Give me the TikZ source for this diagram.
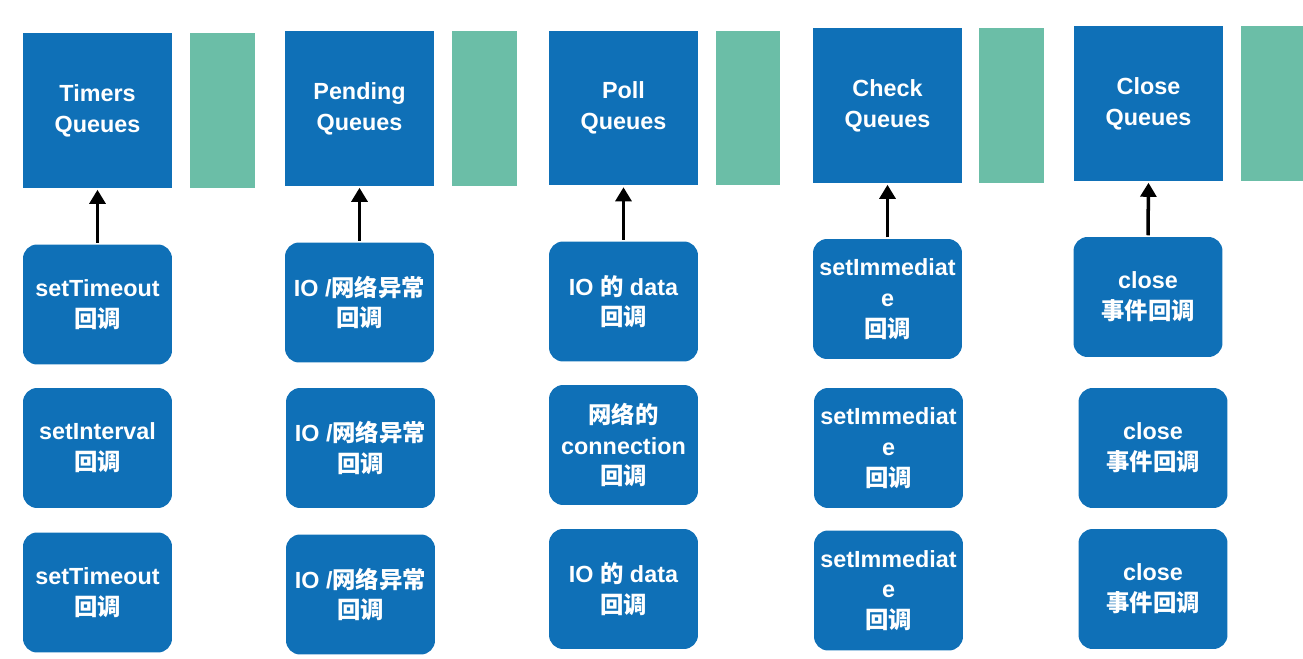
\documentclass[tikz,border=0pt]{standalone}
\usepackage{fontspec}
\setmainfont{Liberation Sans}
\newfontfamily\cjk{Noto Sans CJK SC}
\usepackage{tikz}
\usetikzlibrary{arrows.meta,positioning}
\definecolor{LoopBlue}{HTML}{0F70B7}
\definecolor{LoopGreen}{HTML}{6BBEA7}
\newcommand{\zh}[1]{{\cjk\bfseries #1}}

\begin{document}
\begin{tikzpicture}[x=0.02cm, y=-0.02cm, >={Triangle[width=9pt,length=8pt]}, line width=2pt,
  font=\fontsize{13.3}{17.5}\selectfont\bfseries,
  queue/.style={fill=LoopBlue, text=white, minimum width=2.98cm, minimum height=3.1cm, align=center, inner sep=0pt},
  bar/.style={fill=LoopGreen, minimum width=1.3cm, minimum height=3.1cm, inner sep=0pt},
  cb/.style={rounded corners=8pt, fill=LoopBlue, text=white, minimum width=2.98cm, minimum height=2.4cm, align=center, inner sep=0pt}]

\useasboundingbox (0,0) rectangle (1303,659);

% queues
\node[queue] (timers) at (97.5,110.5) {Timers\\Queues};
\node[queue] (pending) at (359.5,108.5) {Pending\\Queues};
\node[queue] (poll) at (623.5,108) {Poll\\Queues};
\node[queue] (check) at (887.5,105.5) {Check\\Queues};
\node[queue] (close) at (1148.5,103.5) {Close\\Queues};

\node[bar] (timersbar) at (222.5,110.5) {};
\node[bar] (pendingbar) at (484.5,108.5) {};
\node[bar] (pollbar) at (748,108) {};
\node[bar] (checkbar) at (1011.5,105.5) {};
\node[bar, minimum width=1.24cm] (closebar) at (1272,103.5) {};

% callbacks
\node[cb] (t1) at (97.5,304.5) {setTimeout\\\zh{回调}};
\node[cb] (t2) at (97.5,448) {setInterval\\\zh{回调}};
\node[cb] (t3) at (97.5,592.5) {setTimeout\\\zh{回调}};

\node[cb] (p1) at (359.5,302.5) {IO /\zh{网络异常}\\\zh{回调}};
\node[cb] (p2) at (360.5,448) {IO /\zh{网络异常}\\\zh{回调}};
\node[cb] (p3) at (360.5,594.5) {IO /\zh{网络异常}\\\zh{回调}};

\node[cb] (o1) at (623.5,301.5) {IO \zh{的} data\\\zh{回调}};
\node[cb] (o2) at (623.5,445) {\zh{网络的}\\connection\\\zh{回调}};
\node[cb] (o3) at (623.5,589) {IO \zh{的} data\\\zh{回调}};

\node[cb] (c1) at (887.5,299) {setImmediat\\e\\\zh{回调}};
\node[cb] (c2) at (888.5,448) {setImmediat\\e\\\zh{回调}};
\node[cb] (c3) at (888.5,590.5) {setImmediat\\e\\\zh{回调}};

\node[cb] (x1) at (1148,297) {close\\\zh{事件回调}};
\node[cb] (x2) at (1153,448) {close\\\zh{事件回调}};
\node[cb] (x3) at (1153,589) {close\\\zh{事件回调}};

\draw[->] (t1.north) -- (timers.south);
\draw[->] (p1.north) -- (pending.south);
\draw[->] (o1.north) -- (poll.south);
\draw[->] (c1.north) -- (check.south);
\draw[->] (x1.north) -- (close.south);
\end{tikzpicture}
\end{document}
